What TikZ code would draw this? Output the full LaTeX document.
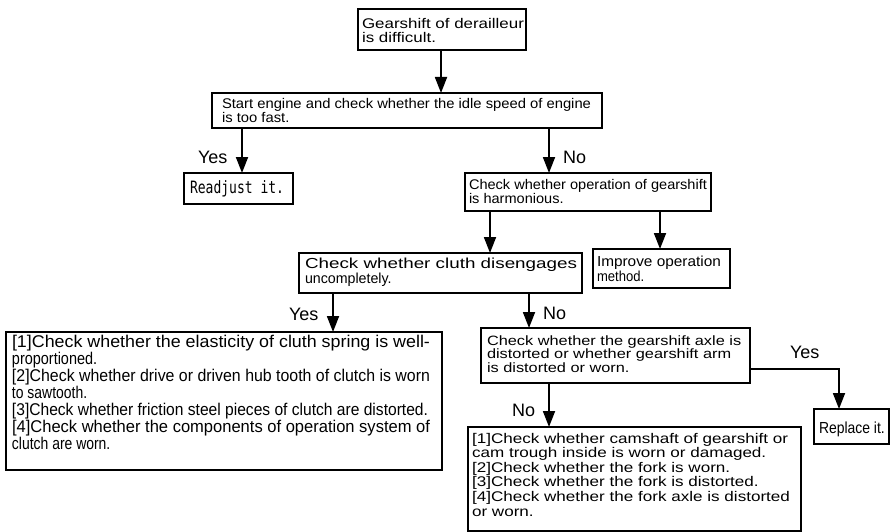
\documentclass[tikz,border=0pt]{standalone}
\usepackage{fontspec}
\setmainfont{Liberation Sans}
\newfontfamily\monofnt{DejaVu Sans Mono}
\usepackage{graphicx}
\usetikzlibrary{arrows.meta}
\newcommand{\sx}[2]{\scalebox{#1}[1]{#2}}
\newcommand{\fitw}[2]{\resizebox{#1}{\height}{#2}}
\newcommand{\stk}[2]{\vtop{\baselineskip=#1\lineskiplimit=-100pt\lineskip=0pt\relax #2}}
\newcommand{\fs}[1]{\fontsize{#1}{#1}\selectfont}
\tikzset{
  box/.style={draw, line width=1.2pt, inner sep=0pt, outer sep=0pt, anchor=north west},
  txt/.style={inner sep=0pt, outer sep=0pt, anchor=base west},
  arr/.style={line width=1.8pt, -{Triangle[length=16pt,width=12pt]}},
  lbl/.style={inner sep=0pt, outer sep=0pt, anchor=base west, font=\fs{18}},
}
\begin{document}
\begin{tikzpicture}[x=1pt,y=-1pt]
\useasboundingbox (0,0) rectangle (891,532);
% boxes
\node[box, minimum width=168, minimum height=41] (b1) at (358,9) {};
\node[box, minimum width=390, minimum height=35] (b2) at (212,93) {};
\node[box, minimum width=109, minimum height=31] (rd) at (184,173) {};
\node[box, minimum width=246, minimum height=38] (hm) at (465,173) {};
\node[box, minimum width=283, minimum height=40] (cl) at (299,253) {};
\node[box, minimum width=137, minimum height=39] (im) at (593,249) {};
\node[box, minimum width=436, minimum height=138] (l1) at (6,332) {};
\node[box, minimum width=269, minimum height=55] (ax) at (481,328) {};
\node[box, minimum width=75, minimum height=35] (rp) at (814,409) {};
\node[box, minimum width=333, minimum height=104] (l2) at (468,427) {};
% texts
\node[txt, font=\fs{14}] (b1t) at (362,28.5) {\stk{14pt}{\hbox{\sx{1.21}{Gearshift of derailleur}}\hbox{\sx{1.21}{is difficult.}}}};
\node[txt, font=\fs{14}] (b2t) at (222,108.5) {\stk{14pt}{\hbox{\sx{1.056}{Start engine and check whether the idle speed of engine}}\hbox{\sx{1.056}{is too fast.}}}};
\node[txt, font=\monofnt\fs{17}] (rdt) at (190,193) {\sx{0.766}{Readjust it.}};
\node[txt, font=\fs{14}] (hmt) at (469,189.5) {\stk{14pt}{\hbox{\sx{1.04}{Check whether operation of gearshift}}\hbox{\sx{1.04}{is harmonious.}}}};
\node[txt, font=\fs{14.5}] (clt) at (305,268.5) {\stk{14.5pt}{\hbox{\fitw{272pt}{Check whether cluth disengages}}\hbox{\sx{0.98}{uncompletely.}}}};
\node[txt, font=\fs{14.5}] (imt) at (597,266.5) {\stk{14.5pt}{\hbox{\sx{1.06}{Improve operation}}\hbox{\sx{0.9}{method.}}}};
\node[txt, font=\fs{17}] (l1t) at (12,347) {\stk{17pt}{%
  \hbox{\fitw{418pt}{[1]Check whether the elasticity of cluth spring is well-}}%
  \hbox{\sx{0.85}{proportioned.}}%
  \hbox{\fitw{418pt}{[2]Check whether drive or driven hub tooth of clutch is worn}}%
  \hbox{\sx{0.82}{to sawtooth.}}%
  \hbox{\fitw{416pt}{[3]Check whether friction steel pieces of clutch are distorted.}}%
  \hbox{\fitw{418pt}{[4]Check whether the components of operation system of}}%
  \hbox{\sx{0.82}{clutch are worn.}}}};
\node[txt, font=\fs{13.5}] (axt) at (487,345) {\stk{13.5pt}{%
  \hbox{\sx{1.21}{Check whether the gearshift axle is}}%
  \hbox{\sx{1.21}{distorted or whether gearshift arm}}%
  \hbox{\sx{1.21}{is distorted or worn.}}}};
\node[txt, font=\fs{16}] (rpt) at (819,433) {\sx{0.87}{Replace it.}};
\node[txt, font=\fs{14}] (l2t) at (472,443) {\stk{14.6pt}{%
  \hbox{\sx{1.22}{[1]Check whether camshaft of gearshift or}}%
  \hbox{\sx{1.22}{cam trough inside is worn or damaged.}}%
  \hbox{\sx{1.22}{[2]Check whether the fork is worn.}}%
  \hbox{\sx{1.22}{[3]Check whether the fork is distorted.}}%
  \hbox{\sx{1.22}{[4]Check whether the fork axle is distorted}}%
  \hbox{\sx{1.22}{or worn.}}}};
% labels
\node[lbl] (ya) at (198,163) {Yes};
\node[lbl] (na) at (563,163) {No};
\node[lbl] (yb) at (289,320) {Yes};
\node[lbl] (nb) at (543,319) {No};
\node[lbl] (yc) at (790,358) {Yes};
\node[lbl] (nc) at (512,416) {No};
% connectors
\coordinate (bend) at (839,369);
\draw[arr] (441,0 |- b1.south) -- (441,0 |- b2.north);
\draw[arr] (242,0 |- b2.south) -- (242,0 |- rd.north);
\draw[arr] (549,0 |- b2.south) -- (549,0 |- hm.north);
\draw[arr] (490,0 |- hm.south) -- (490,0 |- cl.north);
\draw[arr] (660,0 |- hm.south) -- (660,0 |- im.north);
\draw[arr] (333,0 |- cl.south) -- (333,0 |- l1.north);
\draw[arr] (529,0 |- cl.south) -- (529,0 |- ax.north);
\draw[arr] (ax.east |- bend) -- (bend) -- (bend |- rp.north);
\draw[arr] (549,0 |- ax.south) -- (549,0 |- l2.north);
\end{tikzpicture}
\end{document}
